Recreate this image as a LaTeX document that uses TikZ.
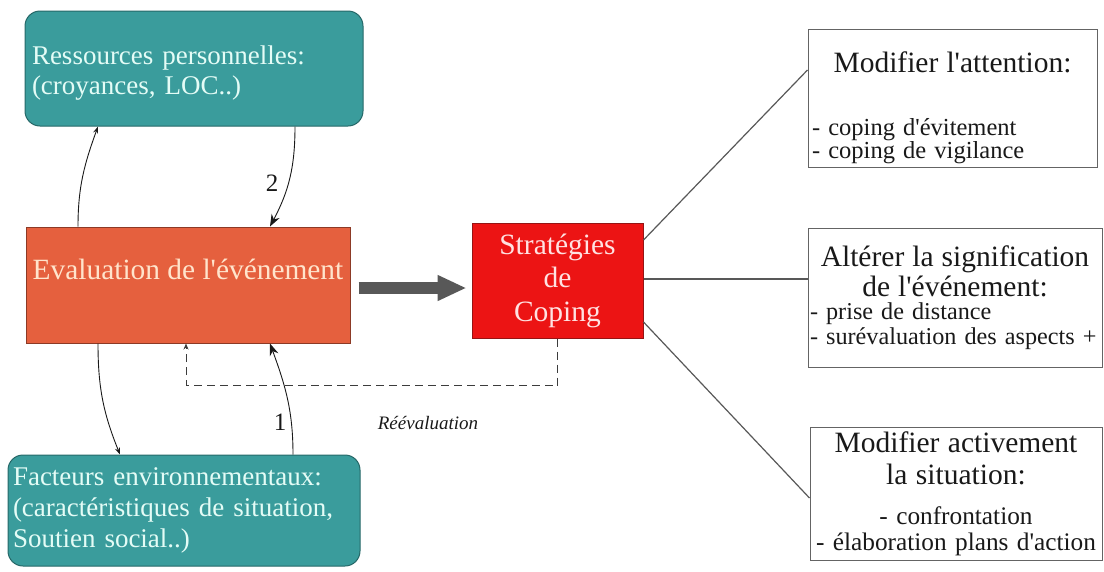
\documentclass[tikz,border=0pt]{standalone}
\usepackage{fontspec}
\setmainfont{Liberation Serif}
\usetikzlibrary{arrows.meta}

\definecolor{tealfill}{RGB}{58,156,156}
\definecolor{tealline}{RGB}{38,104,104}
\definecolor{tealtext}{RGB}{228,252,246}
\definecolor{evalfill}{RGB}{229,96,62}
\definecolor{evalline}{RGB}{140,58,38}
\definecolor{evaltext}{RGB}{255,228,204}
\definecolor{copefill}{RGB}{236,20,20}
\definecolor{copeline}{RGB}{150,20,20}
\definecolor{copetext}{RGB}{255,226,226}
\definecolor{boxgrey}{RGB}{100,100,100}
\definecolor{inkgrey}{RGB}{25,25,25}
\definecolor{arrowgrey}{RGB}{88,88,88}

\newcommand{\headsize}{\fontsize{29.5}{30}\selectfont}
\newcommand{\tightlines}{\lineskiplimit=-100pt\relax}
\newcommand{\lft}[1]{\makebox[\linewidth][l]{#1}}
\newcommand{\topstrut}[1]{\vrule width 0pt height #1\relax}
\newcommand{\ap}{\textquotesingle}

\begin{document}
\begin{tikzpicture}[x=1pt,y=1pt,
    teal/.style={draw=tealline,line width=1pt,fill=tealfill,text=tealtext,
      rounded corners=15pt,align=left,inner ysep=0pt},
    choice/.style={draw=boxgrey,line width=1pt,fill=white,text=inkgrey,
      align=center,inner ysep=0pt},
    link/.style={draw=arrowgrey,line width=1.2pt},
    thinarrow/.style={line width=0.9pt,draw=inkgrey,-{Stealth[length=7pt,width=5pt]}},
    fatarrow/.style={line width=0.9pt,draw=inkgrey,-{Stealth[length=12pt,width=9pt]}},
    num/.style={text=inkgrey,font=\fontsize{25}{25}\selectfont}]
  \useasboundingbox (0,0) rectangle (1104,-571);

  % left column
  \node[teal,minimum width=338pt,minimum height=115pt,text width=324pt,inner xsep=7pt,
    font=\fontsize{27}{30}\selectfont\tightlines] (ress) at (194,-68.5)
    {\topstrut{28pt}Ressources personnelles:\\(croyances, LOC..)};
  \node[draw=evalline,line width=1pt,fill=evalfill,text=evaltext,minimum width=324pt,
    minimum height=116pt,text height=20pt,text depth=32pt,
    font=\fontsize{29.4}{30}\selectfont] (eval) at (188,-285) {Evaluation de l\ap événement};
  \node[teal,minimum width=352pt,minimum height=111pt,text width=342pt,inner xsep=5pt,
    font=\fontsize{27}{31}\selectfont\tightlines] (env) at (184,-510.5)
    {Facteurs environnementaux:\\(caractéristiques de situation,\\Soutien social..)};

  % centre
  \node[draw=copeline,line width=1pt,fill=copefill,text=copetext,minimum width=171pt,
    minimum height=115pt,text width=163pt,inner xsep=4pt,inner ysep=0pt,align=center,
    font=\fontsize{29.5}{33.5}\selectfont\tightlines] (strat) at (557.5,-280.5)
    {Stratégies\\de\\Coping};

  % right column
  \node[choice,minimum width=289pt,minimum height=138pt,text width=281pt,inner xsep=4pt,
    font=\fontsize{24.5}{23.5}\selectfont\tightlines] (att) at (952.5,-98)
    {{\headsize\topstrut{41pt}Modifier l\ap attention:}\\[39pt]
     \lft{- coping d\ap évitement}\\\lft{- coping de vigilance}};
  \node[choice,minimum width=294pt,minimum height=139pt,text width=290pt,inner xsep=2pt,
    font=\fontsize{24.2}{25}\selectfont\tightlines] (sig) at (955,-297.5)
    {{\headsize Altérer la signification}\\[5pt]{\headsize de l\ap événement:}\\[-2pt]
     \lft{- prise de distance}\\\lft{- surévaluation des aspects +}};
  \node[choice,minimum width=292pt,minimum height=133pt,text width=290pt,inner xsep=1pt,
    font=\fontsize{25.3}{26}\selectfont\tightlines] (act) at (956,-493.5)
    {{\headsize Modifier activement}\\[6pt]{\headsize la situation:}\\[14pt]
     - confrontation\\- élaboration plans d\ap action};

  % connectors
  \draw[thinarrow] ([xshift=-110pt]eval.north) to[out=90,in=-110] ([xshift=-96pt]ress.south);
  \draw[fatarrow] ([xshift=101pt]ress.south) to[out=-90,in=62] ([xshift=82pt]eval.north);
  \draw[thinarrow] ([xshift=-90pt]eval.south) to[out=-90,in=112] ([xshift=-64pt]env.north);
  \draw[fatarrow] ([xshift=109pt]env.north) to[out=90,in=-70] ([xshift=82pt]eval.south);
  \node[num] (two) at (272,-183) {2};
  \node[num] (one) at (280,-422) {1};

  \draw[draw=arrowgrey,line width=12pt,-{Triangle[length=29pt,width=24pt]}]
    ([xshift=8pt,yshift=-3pt]eval.east) -- ([xshift=-5pt,yshift=-7.5pt]strat.west);

  \draw[draw=inkgrey!85,line width=1pt,dash pattern=on 8pt off 5pt,
    -{Stealth[length=6pt,width=5pt]}]
    (strat.south) -- ++(0,-47) -| ([xshift=-2pt]eval.south);
  \node[text=inkgrey,font=\fontsize{19}{19}\selectfont\itshape] (reeval) at (428,-423) {Réévaluation};

  \draw[link] ([yshift=40.5pt]strat.east) -- ([yshift=28pt]att.west);
  \draw[link] ([yshift=1.5pt]strat.east) -- ([yshift=18.5pt]sig.west);
  \draw[link] ([yshift=-41.5pt]strat.east) -- ([yshift=-4.5pt]act.west);
\end{tikzpicture}
\end{document}
